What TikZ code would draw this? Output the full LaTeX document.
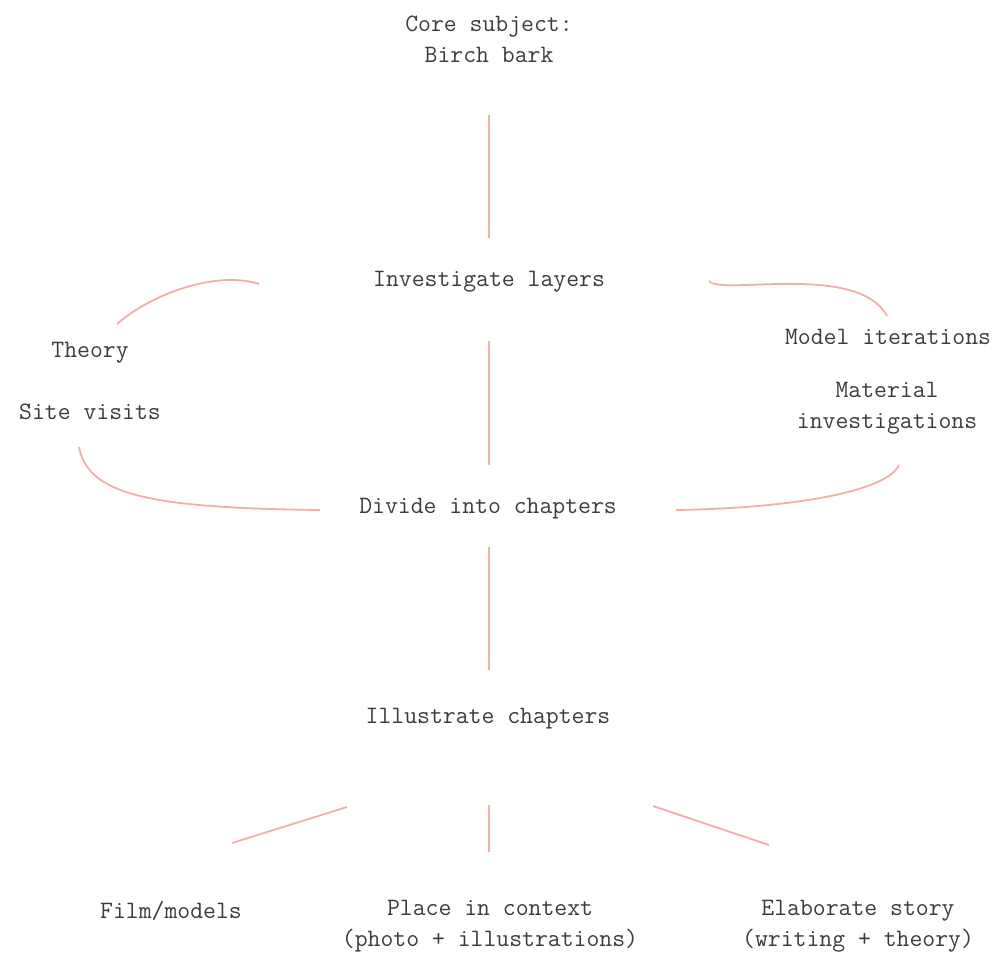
\documentclass[tikz,border=0pt]{standalone}
\usepackage{fontspec}
\definecolor{txt}{HTML}{3C3C3C}
\definecolor{ln}{HTML}{F0B0A8}
\begin{document}
\begin{tikzpicture}[x=1pt,y=-1pt,
  lbl/.style={text=txt,font=\ttfamily\fontsize{25}{31}\selectfont,align=center,inner sep=0pt},
  conn/.style={draw=ln,line width=1.8pt}]
\useasboundingbox (0,0) rectangle (996,955);
\node[lbl] (core) at (489,39) {Core subject:\\Birch bark};
\node[lbl] (invest) at (489,282) {Investigate layers};
\node[lbl] (theory) at (90,353) {Theory};
\node[lbl] (site) at (90,412) {Site visits};
\node[lbl] (model) at (888,337) {Model iterations};
\node[lbl] (material) at (887,408) {Material\\investigations};
\node[lbl] (divide) at (488,509) {Divide into chapters};
\node[lbl] (illus) at (488,719) {Illustrate chapters};
\node[lbl] (film) at (171,911) {Film/models};
\node[lbl] (place) at (490,926) {Place in context\\(photo + illustrations)};
\node[lbl] (elab) at (858,926) {Elaborate story\\(writing + theory)};
% connector ends
\coordinate (c1a) at (489,115); \coordinate (c1b) at (489,238);
\coordinate (c2a) at (489,341); \coordinate (c2b) at (489,465);
\coordinate (c3a) at (489,547); \coordinate (c3b) at (489,670);
\coordinate (c4a) at (489,805); \coordinate (c4b) at (489,852);
\coordinate (c5a) at (347,807); \coordinate (c5b) at (232,843);
\coordinate (c6a) at (653,806); \coordinate (c6b) at (769,845);
\coordinate (l1a) at (259,284); \coordinate (l1b) at (117,324);
\coordinate (l2a) at (320,510); \coordinate (l2b) at (79,447);
\coordinate (r1a) at (709,281); \coordinate (r1b) at (887,316);
\coordinate (r2a) at (676,510); \coordinate (r2b) at (899,465);
\draw[conn] (c1a) -- (c1b);
\draw[conn] (c2a) -- (c2b);
\draw[conn] (c3a) -- (c3b);
\draw[conn] (c4a) -- (c4b);
\draw[conn] (c5a) -- (c5b);
\draw[conn] (c6a) -- (c6b);
\draw[conn] (l1a) .. controls (215,270) and (150,295) .. (l1b);
\draw[conn] (l2a) .. controls (150,508) and (88,495) .. (l2b);
\draw[conn] (r1a) .. controls (720,296) and (858,262) .. (r1b);
\draw[conn] (r2a) .. controls (800,508) and (888,490) .. (r2b);
\end{tikzpicture}
\end{document}
